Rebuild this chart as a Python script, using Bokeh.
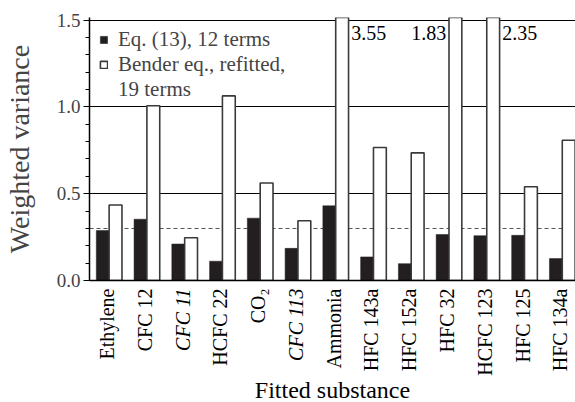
import math
from bokeh.plotting import figure
from bokeh.models import (ColumnDataSource, Label, FixedTicker, Grid, Range1d,
                          NumeralTickFormatter, Legend, LegendItem)
from bokeh.core.properties import value
from bokeh.transform import dodge
from bokeh.embed import file_html
from bokeh.resources import INLINE

# ---------------- data ----------------
substances = ["Ethylene", "CFC 12", "CFC 11", "HCFC 22", "CO\u2082", "CFC 113",
              "Ammonia", "HFC 143a", "HFC 152a", "HFC 32", "HCFC 123",
              "HFC 125", "HFC 134a"]
italic_label = [False, False, True, False, False, True,
                False, False, False, False, False, False, False]
eq13_12terms = [0.288, 0.353, 0.210, 0.111, 0.359, 0.185,
                0.430, 0.136, 0.097, 0.265, 0.258, 0.260, 0.126]
bender_19terms = [0.435, 1.006, 0.246, 1.063, 0.561, 0.344,
                  3.55, 0.766, 0.735, 1.83, 2.35, 0.540, 0.808]
# side on which the value of an off-scale bar is written
offscale_side = {6: "right", 9: "left", 10: "right"}
y_ticks = [0.0, 0.5, 1.0, 1.5]
legend_lines = ["Eq. (13), 12 terms", "Bender eq., refitted,", "19 terms"]
x_title = "Fitted substance"
y_title = "Weighted variance"

FONT = "Liberation Serif"
BW = 0.34
idx = list(range(len(substances)))

src = ColumnDataSource(dict(x=idx, eq=eq13_12terms, bender=bender_19terms))

xr = Range1d(-0.52, 12.35)
p = figure(width=575, height=402, output_backend="svg", toolbar_location=None,
           x_range=xr, y_range=Range1d(0, 1.5144),
           min_border_left=88, min_border_right=0, min_border_top=17,
           min_border_bottom=122)
p.background_fill_color = "white"
p.border_fill_color = "white"
p.outline_line_color = None

# grid lines (top line at 1.5 is hidden behind the off-scale bars, as in the original)
p.xgrid.visible = False
p.ygrid.ticker = FixedTicker(ticks=[0.5, 1.0, 1.5])
p.ygrid.grid_line_color = "black"
p.ygrid.grid_line_width = 1.2
dash_grid = Grid(dimension=1, ticker=FixedTicker(ticks=[0.3]),
                 grid_line_color="#555555", grid_line_dash="4 3", grid_line_width=1)
p.center.append(dash_grid)

# bars
r_eq = p.vbar(x=dodge("x", -BW / 2), top="eq", bottom=0, width=BW, source=src,
              fill_color="#231f20", line_color="#231f20", line_width=0.5)
r_b = p.vbar(x=dodge("x", BW / 2), top="bender", bottom=0, width=BW, source=src,
             fill_color="white", line_color="#3a3a3a", line_width=1.6)
# empty, invisible renderer: carries the continuation line of the legend
r_none = p.vbar(x=[], top=[], width=BW, fill_alpha=0, line_alpha=0)

# y axis
ya = p.yaxis[0]
ya.ticker = FixedTicker(ticks=y_ticks, minor_ticks=[round(0.1 * i, 1) for i in range(16)])
ya.formatter = NumeralTickFormatter(format="0.0")
ya.axis_label = y_title
ya.axis_label_text_font = FONT
ya.axis_label_text_font_size = "28px"
ya.axis_label_text_font_style = "normal"
ya.axis_label_standoff = 19
ya.major_label_text_font = FONT
ya.major_label_text_font_size = "19px"
ya.major_label_standoff = 3
ya.major_tick_in = 0
ya.major_tick_out = 6
ya.minor_tick_in = 0
ya.minor_tick_out = 4
ya.axis_line_width = 1.5
ya.major_tick_line_width = 1.2
ya.minor_tick_line_width = 1

# x axis: line only
xa = p.xaxis[0]
xa.ticker = FixedTicker(ticks=[])
xa.major_tick_out = 0
xa.major_tick_in = 0
xa.minor_tick_out = 0
xa.minor_tick_in = 0
xa.major_label_text_font_size = "0px"
xa.major_label_standoff = 0
xa.axis_line_width = 1.5

# category names as rotated text (overlay level, so not clipped to the frame)
for style in ("normal", "italic"):
    sel = [i for i in idx if italic_label[i] == (style == "italic")]
    csrc = ColumnDataSource(dict(x=sel, y=[0] * len(sel),
                                 name=[substances[i] for i in sel]))
    p.text(x="x", y="y", text="name", source=csrc, angle=math.pi / 2,
           y_offset=8, x_offset=-2,
           text_align="right", text_baseline="middle",
           text_font=value(FONT), text_font_size="20px",
           text_font_style=style, text_color="black", level="overlay")

# x-axis title, centred under the frame
p.text(x=[(xr.start + xr.end) / 2], y=[0], text=[x_title], y_offset=96,
       text_align="center", text_baseline="top",
       text_font=value(FONT), text_font_size="24px", text_color="black",
       level="overlay")

# values of the off-scale bars
for i, side in offscale_side.items():
    if side == "right":
        xv, al = i + BW + 0.07, "left"
    else:
        xv, al = i - 0.07, "right"
    p.add_layout(Label(x=xv, y=1.465, text=f"{bender_19terms[i]:.2f}",
                       text_align=al, text_baseline="top", text_font=FONT,
                       text_font_size="20px", text_color="black"))

# legend
legend = Legend(items=[LegendItem(label=legend_lines[0], renderers=[r_eq]),
                       LegendItem(label=legend_lines[1], renderers=[r_b]),
                       LegendItem(label=legend_lines[2], renderers=[r_none])],
                location="top_left", margin=0, padding=10, spacing=-10,
                glyph_width=9, glyph_height=9, label_standoff=10,
                label_text_font=FONT, label_text_font_size="21px",
                background_fill_alpha=0, border_line_alpha=0)
p.add_layout(legend)

open("out.html", "w").write(file_html(p, INLINE))
